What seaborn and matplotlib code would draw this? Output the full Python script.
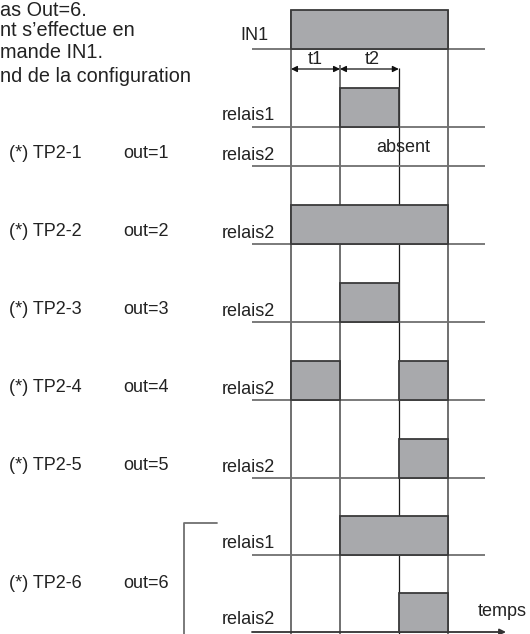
import matplotlib
matplotlib.use("Agg")
import matplotlib.pyplot as plt
import seaborn as sns
from matplotlib.patches import Rectangle

sns.set_theme(style="white")
plt.rcParams['font.family'] = ['Liberation Sans', 'DejaVu Sans']

# ---------------- data ----------------
# event times (arbitrary units): IN1 on, end of t1, end of t2, IN1 off
event_times = [0.0, 1.0, 2.2, 3.2]
t1_label = "t1"
t2_label = "t2"

header_lines = ["as Out=6.", "nt s\u2019effectue en", "mande IN1.", "nd de la configuration"]

# signals: ON intervals in time units
in1_intervals = [(0.0, 3.2)]
relais1_intervals = [(1.0, 2.2)]

config_names = ["(*) TP2-1", "(*) TP2-2", "(*) TP2-3", "(*) TP2-4", "(*) TP2-5", "(*) TP2-6"]
config_outs = ["out=1", "out=2", "out=3", "out=4", "out=5", "out=6"]
relais2_intervals = [
    [],                          # out=1 : absent
    [(0.0, 3.2)],                # out=2
    [(1.0, 2.2)],                # out=3
    [(0.0, 1.0), (2.2, 3.2)],    # out=4
    [(2.2, 3.2)],                # out=5
    [(2.2, 3.2)],                # out=6 relais2
]
out6_relais1_intervals = [(1.0, 3.2)]
absent_text = "absent"
time_label = "temps"

# ---------------- layout ----------------
W, H = 530, 634
fig = plt.figure(figsize=(W / 100, H / 100), dpi=100)
ax = fig.add_axes([0, 0, 1, 1])
X0, SC = 291.0, 49.0          # pixel position of time 0, pixels per time unit
ax.set_xlim(-X0 / SC, (W - X0) / SC)
ax.set_ylim(H, 0)
ax.axis("off")

def X(px):
    return (px - X0) / SC

FS = 13.0
FS_HEAD = 14.3
TXT = "#222222"
FILL = "#a8a9ac"
EDGE = "#3a3a3a"
GRID = "#707070"
BOX_H = 39
L_START, L_END = X(252), X(485)

# header text (begins at the left edge)
for s, y in zip(header_lines, [10, 31, 53, 76]):
    ax.text(X(0), y, s, fontsize=FS_HEAD, color=TXT, ha="left", va="center")

def draw_boxes(intervals, base):
    for a, b in intervals:
        ax.add_patch(Rectangle((a, base - BOX_H), b - a, BOX_H, facecolor=FILL,
                               edgecolor=EDGE, lw=1.3, zorder=4))

# vertical timing lines
t0, ta, tb, t3 = event_times
ax.vlines([t0, t3], 10, H, colors=GRID, lw=1.4, zorder=2)
ax.vlines([ta], 65, H, colors=GRID, lw=1.4, zorder=2)
ax.vlines([tb], 68, H, colors="#1a1a1a", lw=0.9, zorder=2)

# IN1
ax.hlines(49, L_START, L_END, colors=GRID, lw=1.3, zorder=2)
ax.text(X(240), 35, "IN1", fontsize=FS, color=TXT, ha="left", va="center")
draw_boxes(in1_intervals, 49)

# t1 / t2 arrows
arrow_kw = dict(arrowstyle="<|-|>", color="#111111", lw=0.9, mutation_scale=9,
                shrinkA=0, shrinkB=0)
ax.annotate("", xy=(t0, 69), xytext=(ta, 69), arrowprops=arrow_kw, zorder=5)
ax.annotate("", xy=(ta, 69), xytext=(tb, 69), arrowprops=arrow_kw, zorder=5)
ax.text((t0 + ta) / 2, 59, t1_label, fontsize=FS, color=TXT, ha="center", va="center")
ax.text((ta + tb) / 2 + 0.05, 59, t2_label, fontsize=FS, color=TXT, ha="center", va="center")

# relais1
ax.hlines(127, L_START, L_END, colors=GRID, lw=1.3, zorder=2)
ax.text(X(222), 116, "relais1", fontsize=FS, color=TXT, ha="left", va="center")
draw_boxes(relais1_intervals, 127)

# configurations
bases = [166, 244, 322, 400, 478]
for i in range(5):
    b = bases[i]
    ax.hlines(b, L_START, L_END, colors=GRID, lw=1.3, zorder=2)
    ax.text(X(9), b - 13, config_names[i], fontsize=FS, color=TXT, ha="left", va="center")
    ax.text(X(123), b - 13, config_outs[i], fontsize=FS, color=TXT, ha="left", va="center")
    ax.text(X(222), b - 11, "relais2", fontsize=FS, color=TXT, ha="left", va="center")
    draw_boxes(relais2_intervals[i], b)
ax.text(X(403), 147, absent_text, fontsize=FS, color=TXT, ha="center", va="center", zorder=6)

# out=6 (two relays)
b1, b2 = 555, 632
ax.hlines(b1, L_START, L_END, colors=GRID, lw=1.3, zorder=2)
ax.annotate("", xy=(X(506), b2), xytext=(L_START, b2),
            arrowprops=dict(arrowstyle="-|>", color="#333333", lw=1.3, mutation_scale=9,
                            shrinkA=0, shrinkB=0), zorder=3)
ax.text(X(222), 543, "relais1", fontsize=FS, color=TXT, ha="left", va="center")
ax.text(X(222), 620, "relais2", fontsize=FS, color=TXT, ha="left", va="center")
ax.text(X(9), 583, config_names[5], fontsize=FS, color=TXT, ha="left", va="center")
ax.text(X(123), 583, config_outs[5], fontsize=FS, color=TXT, ha="left", va="center")
draw_boxes(out6_relais1_intervals, b1)
draw_boxes(relais2_intervals[5], b2)
ax.text(X(478), 612, time_label, fontsize=FS, color=TXT, ha="left", va="center")

# bracket
ax.plot([X(217), X(184), X(184)], [523, 523, H], color=GRID, lw=1.3, zorder=2)

fig.savefig("out.png", dpi=100)
